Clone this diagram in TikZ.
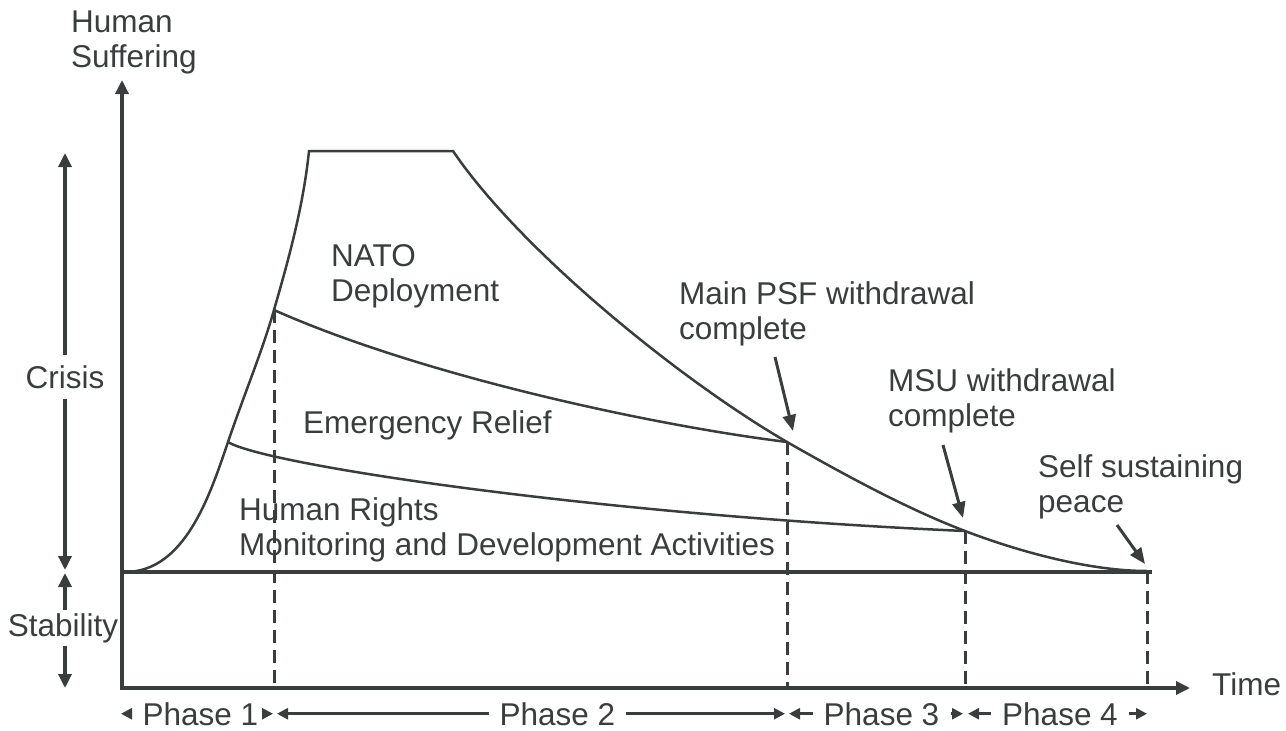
\documentclass[tikz,border=0pt]{standalone}
\usepackage{fontspec}
\setmainfont{Liberation Sans}
\usetikzlibrary{arrows.meta}
\definecolor{ink}{HTML}{3A3D3D}
\begin{document}
\begin{tikzpicture}[x=1pt,y=-1pt,
  every node/.style={font=\fontsize{31.5}{35}\selectfont, text=ink, inner sep=0pt},
  lbl/.style={anchor=base west, align=left},
  curve/.style={draw=ink, line width=2.5pt},
  axisline/.style={draw=ink, line width=3.3pt, line join=miter, {Triangle[length=14pt,width=13pt]}-{Triangle[length=14pt,width=13pt]}},
  baseln/.style={draw=ink, line width=4pt},
  guide/.style={draw=ink, line width=3pt, dash pattern=on 13pt off 7pt},
  dimarrow/.style={draw=ink, line width=3.3pt, -{Triangle[length=14pt,width=13pt]}},
  ptr/.style={draw=ink, line width=3pt, -{Triangle[length=16pt,width=13pt]}},
  phtip/.style={draw=ink, line width=2.6pt, -{Triangle[length=11pt,width=11pt]}},
  phase/.style={anchor=base, inner xsep=11pt}
]
\useasboundingbox (0,0) rectangle (1286,731);

% key coordinates
\coordinate (origin) at (122,688);
\coordinate (ytip) at (122,80);
\coordinate (xtip) at (1190,688);
\coordinate (b0) at (125,572);
\coordinate (bEnd) at (1152,572);
\coordinate (hr) at (228,442);
\coordinate (k1) at (274,310);
\coordinate (top1) at (309,151);
\coordinate (top2) at (453,151);
\coordinate (k2) at (787,442);
\coordinate (k3) at (965,531);
\coordinate (k4) at (1147,571);

% axes
\draw[axisline] (ytip) -- (origin) -- (xtip);
\draw[baseln] (122,572) -- (bEnd);

% main envelope
\draw[curve] (b0) .. controls (185,572) and (210,495) .. (hr)
  .. controls (245,392) and (262,352) .. (k1)
  .. controls (286,268) and (303,210) .. (top1)
  -- (top2)
  .. controls (520,250) and (680,380) .. (k2)
  .. controls (850,478) and (910,510) .. (k3)
  .. controls (1020,552) and (1090,571) .. (k4);

% inner boundaries
\draw[curve] (k1) .. controls (420,375) and (650,425) .. (k2);
\draw[curve] (hr) .. controls (265,465) and (600,515) .. (k3);

% dashed guides
\draw[guide] (k1) -- (k1 |- origin);
\draw[guide] (k2) -- (k2 |- origin);
\draw[guide] (k3) -- (k3 |- origin);
\draw[guide] (k4) -- (k4 |- origin);

% left dimension arrows
\coordinate (crisisTop) at (65,153);
\coordinate (crisisBot) at (65,570);
\coordinate (stabTop) at (65,573);
\coordinate (stabBot) at (65,688);
\node[anchor=base, inner ysep=10pt] (crisis) at (65,388) {Crisis};
\draw[dimarrow] (crisis.north) -- (crisisTop);
\draw[dimarrow] (crisis.south) -- (crisisBot);
\node[anchor=base, inner ysep=3pt] (stab) at (63,636) {Stability};
\draw[dimarrow] (stab.north -| stabTop) -- (stabTop);
\draw[dimarrow] (stab.south -| stabBot) -- (stabBot);

% axis labels (base = baseline of last line)
\node[lbl] (ylab) at (71,67) {Human\\Suffering};
\node[lbl] (xlab) at (1212,695) {Time};

% region labels
\node[lbl] (nato) at (331,301) {NATO\\Deployment};
\node[lbl] (relief) at (303,433) {Emergency Relief};
\node[lbl] (rights) at (239,555) {Human Rights\\Monitoring and Development Activities};

% event labels
\node[lbl] (psf) at (679,339) {Main PSF withdrawal\\complete};
\node[lbl] (msu) at (888,426) {MSU withdrawal\\complete};
\node[lbl] (peace) at (1038,512) {Self sustaining\\peace};
\coordinate (psfA) at (775,357);
\coordinate (psfB) at (793,431);
\coordinate (msuA) at (943,445);
\coordinate (msuB) at (963,518);
\coordinate (peaceA) at (1117,525);
\coordinate (peaceB) at (1145,564);
\draw[ptr] (psfA) -- (psfB);
\draw[ptr] (msuA) -- (msuB);
\draw[ptr] (peaceA) -- (peaceB);

% phases
\coordinate (q0) at (121,716);
\coordinate (q1a) at (273,716);
\coordinate (q1b) at (277,716);
\coordinate (q2a) at (785,716);
\coordinate (q2b) at (789,716);
\coordinate (q3a) at (963,716);
\coordinate (q3b) at (968,716);
\coordinate (q4) at (1147,716);
\node[phase] (p1) at (200.5,725) {Phase 1};
\node[phase] (p2) at (557.5,725) {Phase 2};
\node[phase] (p3) at (881.5,725) {Phase 3};
\node[phase] (p4) at (1060,725) {Phase 4};
\draw[phtip] (p1.west) -- (p1.west -| q0);
\draw[phtip] (p1.east) -- (p1.east -| q1a);
\draw[phtip] (p2.west) -- (p2.west -| q1b);
\draw[phtip] (p2.east) -- (p2.east -| q2a);
\draw[phtip] (p3.west) -- (p3.west -| q2b);
\draw[phtip] (p3.east) -- (p3.east -| q3a);
\draw[phtip] (p4.west) -- (p4.west -| q3b);
\draw[phtip] (p4.east) -- (p4.east -| q4);
\end{tikzpicture}
\end{document}
